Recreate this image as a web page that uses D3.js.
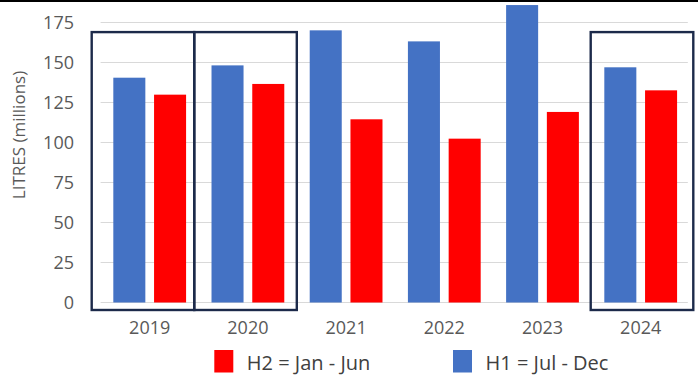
<!DOCTYPE html>
<html>
    <head>
        <title>Litres by half-year</title>
        <meta charset="UTF-8">
        <style>
            body { margin: 0; background: #fff; }
            text { font-family: "Open Sans", sans-serif; }
            .grid line { stroke: #d9d9d9; stroke-width: 1.2px; }
            .tick-label { fill: #595959; font-size: 18px; }
            .legend text { fill: #404040; font-size: 20px; }
        </style>
        <script src="https://cdn.jsdelivr.net/npm/d3@7"></script>
    </head>
    <body>
        <svg width="698" height="377"></svg>

        <script>
            // data
            var years = ["2019", "2020", "2021", "2022", "2023", "2024"];
            var h1 = [140.5, 148.2, 170.1, 163.2, 185.9, 147.0];   // Jul - Dec
            var h2 = [129.9, 136.6, 114.5, 102.4, 119.1, 132.6];   // Jan - Jun
            var yTicks = [0, 25, 50, 75, 100, 125, 150, 175];
            var seriesKeys = ["H1", "H2"];
            var seriesColors = {H1: "#4472C4", H2: "#FF0000"};
            var legendItems = [
                {key: "H2", label: "H2 = Jan - Jun"},
                {key: "H1", label: "H1 = Jul - Dec"}
            ];
            var highlighted = [
                {year: "2019", nudge: -7.7},
                {year: "2020", nudge: -3.4},
                {year: "2024", nudge: 0.3}
            ];

            var svg = d3.select("svg");

            var x0 = d3.scaleBand().domain(years).range([100.6, 689.8]);
            var x1 = d3.scaleBand().domain(seriesKeys)
                    .range([0, x0.bandwidth()])
                    .paddingInner(0.214).paddingOuter(0.312);
            var y = d3.scaleLinear().domain([0, 175]).range([302.5, 22.5]);

            // top edge line
            svg.append("rect").attr("x", 0).attr("y", 0)
                .attr("width", 698).attr("height", 2).attr("fill", "#000");

            // gridlines
            svg.append("g").attr("class", "grid")
                .selectAll("line").data(yTicks).enter().append("line")
                .attr("x1", x0.range()[0]).attr("x2", x0.range()[1] - 2)
                .attr("y1", d => y(d)).attr("y2", d => y(d));

            // y tick labels
            svg.append("g").selectAll("text").data(yTicks).enter().append("text")
                .attr("class", "tick-label")
                .attr("x", 74).attr("y", d => y(d) + 6.4)
                .attr("text-anchor", "end")
                .text(d => d);

            // y axis title
            svg.append("text")
                .attr("transform", "translate(25,135) rotate(-90)")
                .attr("text-anchor", "middle")
                .attr("fill", "#595959").style("font-size", "17px")
                .text("LITRES (millions)");

            // bars
            var rows = years.map((yr, i) => ({year: yr, H1: h1[i], H2: h2[i]}));
            var groups = svg.append("g").selectAll("g").data(rows).enter().append("g")
                    .attr("transform", d => "translate(" + x0(d.year) + ",0)");
            groups.selectAll("rect")
                .data(d => seriesKeys.map(k => ({key: k, value: d[k]})))
                .enter().append("rect")
                .attr("x", d => x1(d.key))
                .attr("width", x1.bandwidth())
                .attr("y", d => y(d.value))
                .attr("height", d => y(0) - y(d.value))
                .attr("fill", d => seriesColors[d.key]);

            // highlight boxes
            svg.append("g").selectAll("rect").data(highlighted).enter().append("rect")
                .attr("x", d => x0(d.year) + d.nudge - 50.3 + x0.bandwidth() / 2)
                .attr("width", 102.6)
                .attr("y", y(169))
                .attr("height", y(0) - y(169) + 7.5)
                .attr("fill", "none")
                .attr("stroke", "#1c2a4a")
                .attr("stroke-width", 2.4);

            // x labels
            svg.append("g").selectAll("text").data(years).enter().append("text")
                .attr("class", "tick-label")
                .attr("x", d => x0(d) + x0.bandwidth() / 2)
                .attr("y", 334)
                .attr("text-anchor", "middle")
                .text(d => d);

            // legend
            var legendX = [214.3, 453];
            var lg = svg.append("g").attr("class", "legend")
                    .selectAll("g").data(legendItems).enter().append("g")
                    .attr("transform", (d, i) => "translate(" + legendX[i] + ",350)");
            lg.append("rect").attr("width", 19).attr("height", 22.5)
                .attr("fill", d => seriesColors[d.key]);
            lg.append("text").attr("x", 32.5).attr("y", 20).text(d => d.label);
        </script>
    </body>
</html>
